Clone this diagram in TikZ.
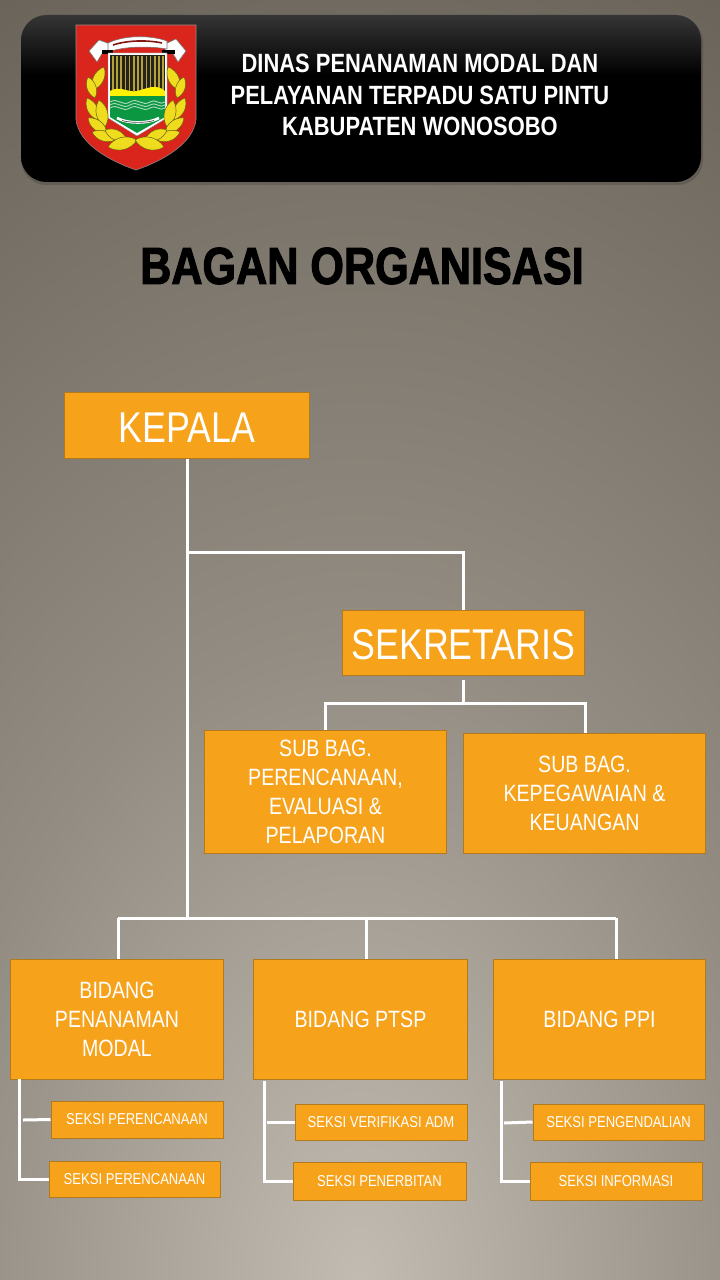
\documentclass[tikz,border=0pt]{standalone}
\usepackage{fontspec}
\setmainfont[FakeStretch=0.83]{Liberation Sans}
\newfontfamily\judulfont[FakeStretch=0.83,FakeBold=2]{Liberation Sans Bold}
\definecolor{boxfill}{HTML}{F7A21B}
\definecolor{boxline}{HTML}{B27A1A}
\definecolor{shieldred}{HTML}{DA251C}
\definecolor{leafyellow}{HTML}{F0DC1E}
\definecolor{leafline}{HTML}{6B6410}
\definecolor{fieldgreen}{HTML}{0B9642}
\definecolor{stripedark}{HTML}{26241A}
\definecolor{stripegold}{HTML}{B5A23C}
\pgfdeclarefunctionalshading{backdrop}{\pgfpointorigin}{\pgfpoint{100bp}{100bp}}{}{
  exch 50 sub 0.85 mul dup mul exch 25 sub dup mul add sqrt 50 div
  dup 0.5 lt {0.37 mul 0.76 exch sub}{0.5 sub 0.27 mul 0.575 exch sub} ifelse
  dup dup 0.025 sub exch 0.065 sub}
\pgfdeclareverticalshading{headerbar}{100bp}{
  rgb(0bp)=(0,0,0); rgb(57bp)=(0,0,0); rgb(75bp)=(0.21,0.21,0.21); rgb(100bp)=(0.21,0.21,0.21)}
\tikzset{
  orgbox/.style 2 args={draw=boxline,fill=boxfill,text=white,inner sep=0pt,align=center,
    line width=0.75pt,minimum width=#1*0.75pt,minimum height=#2*0.75pt},
  big/.style={font=\fontsize{32.3}{36}\selectfont,text height=26pt},
  mid/.style={font=\fontsize{17.7}{21.75}\selectfont},
  small/.style={font=\fontsize{11.8}{13}\selectfont},
  wire/.style={draw=white,line width=2.25pt},
  ribbon/.style={fill=white,draw=black!55,line width=0.4pt},
  leaf/.style={fill=leafyellow,draw=leafline,line width=0.4pt}
}
\begin{document}
\begin{tikzpicture}[x=0.75pt,y=-0.75pt]
  \useasboundingbox (0,0) rectangle (720,1280);
  \shade[shading=backdrop] (0,0) rectangle (720,1280);
  % header
  \fill[black,opacity=0.15,rounded corners=19pt] (21,17) rectangle (703,185);
  \shade[shading=headerbar,rounded corners=19pt] (21,15) rectangle (701,182);
  % emblem
  \fill[shieldred,draw=black!45,line width=0.4pt] (76,25) -- (196,25) -- (196,120)
    .. controls (193,143) and (165,160) .. (136,170)
    .. controls (107,160) and (79,143) .. (76,120) -- cycle;
  \fill[ribbon] (89,51) -- (99,40) -- (110,44) -- (110,50) -- (103,52) -- (97,62) -- cycle;
  \fill[ribbon] (186,51) -- (176,39) -- (165,44) -- (165,50) -- (172,52) -- (178,62) -- cycle;
  \fill[ribbon] (108,43) .. controls (125,35) and (150,35) .. (167,41)
    -- (167,49) .. controls (150,46) and (125,46) .. (108,52) -- cycle;
  \draw[shieldred!60!black,line width=1.2pt] (113,45) .. controls (128,40) and (148,40) .. (162,43);
  \fill[black] (102,50) rectangle (113,54);
  \fill[black] (162,50) rectangle (175,54);
  \fill[white,draw=black!50,line width=0.3pt] (108,53) -- (167,53) -- (167,118) -- (137,136) -- (108,118) -- cycle;
  \fill[stripedark] (110,55) rectangle (165,92);
  \foreach \i in {0,...,12}
    \fill[stripegold] (112+\i*4.2,56) rectangle (113.5+\i*4.2,91);
  \fill[fieldgreen] (110,95) -- (165,95) -- (165,117) -- (137,133) -- (110,117) -- cycle;
  \fill[yellow] (110,96) -- (110,91) .. controls (120,85) and (128,93) .. (137,91)
    .. controls (146,89) and (156,83) .. (165,91) -- (165,96) -- cycle;
  \foreach \w in {102,105,108}
    \draw[white!65!fieldgreen,line width=0.7pt] (110,\w) .. controls (118,\w-5) and (122,\w+5) .. (130,\w)
      .. controls (138,\w-5) and (142,\w+5) .. (150,\w) .. controls (155,\w-4) and (160,\w+4) .. (165,\w);
  \draw[white,line width=2pt] (117,118) .. controls (128,124) and (148,124) .. (159,118);
  \draw[black!70,line width=0.5pt] (122,120.5) .. controls (130,123) and (146,123) .. (154,120.5);
  % daun
  \foreach \xa/\ya/\xb/\yb in {104/67/93/90,88/77/95/98,87/98/98/120,99/100/105/127,
    88/118/107/133,92/132/115/140,105/130/127/140,108/147/137/140}{
    \fill[leaf] (\xa,\ya) to[bend left=45] (\xb,\yb) to[bend left=45] (\xa,\ya);
    \fill[leaf] (272-\xa,\ya) to[bend left=45] (272-\xb,\yb) to[bend left=45] (272-\xa,\ya);
  }
  % judul
  \node (dinas) at (420,95) [text=white,align=center,font=\fontsize{19.8}{23.6}\selectfont\bfseries]
    {DINAS PENANAMAN MODAL DAN\\PELAYANAN TERPADU SATU PINTU\\KABUPATEN WONOSOBO};
  \node (bagan) at (362,266) [text=black,font=\fontsize{39}{42}\judulfont] {BAGAN ORGANISASI};
  % kotak
  \node (kepala) at (187,425) [orgbox={245}{66},big] {KEPALA};
  \node (sekretaris) at (463.5,642.5) [orgbox={242}{65},big] {SEKRETARIS};
  \node (subrencana) at (325.5,791.5) [orgbox={242}{123},mid] {SUB BAG.\\PERENCANAAN,\\EVALUASI \&\\PELAPORAN};
  \node (subpegawai) at (584.5,793) [orgbox={242}{120},mid] {SUB BAG.\\KEPEGAWAIAN \&\\KEUANGAN};
  \node (modal) at (117,1019) [orgbox={213}{120},mid] {BIDANG\\PENANAMAN\\MODAL};
  \node (ptsp) at (360.5,1019) [orgbox={214}{120},mid] {BIDANG PTSP};
  \node (ppi) at (599.5,1019) [orgbox={212}{120},mid] {BIDANG PPI};
  \node (seksia) at (137,1119.5) [orgbox={172}{37},small] {SEKSI PERENCANAAN};
  \node (seksib) at (134.5,1179) [orgbox={171}{36},small] {SEKSI PERENCANAAN};
  \node (seksic) at (381,1122) [orgbox={172}{36},small] {SEKSI VERIFIKASI ADM};
  \node (seksid) at (379.5,1181) [orgbox={173}{38},small] {SEKSI PENERBITAN};
  \node (seksie) at (618.5,1122) [orgbox={171}{36},small] {SEKSI PENGENDALIAN};
  \node (seksif) at (616,1181) [orgbox={172}{38},small] {SEKSI INFORMASI};
  % garis
  \coordinate (trunk) at (187,918);
  \coordinate (leftend) at (118,918);
  \coordinate (rightend) at (616,918);
  \draw[wire] (kepala.south) -- (trunk);
  \draw[wire] (187,552) -| (sekretaris.north);
  \draw[wire] (463.5,680) -- (463.5,703);
  \draw[wire] (325,730) |- (585,703) -- (585,733);
  \draw[wire] (leftend) -- (rightend);
  \draw[wire] (leftend) -- (118,959);
  \draw[wire] (366,918) -- (366,959);
  \draw[wire] (rightend) -- (616,959);
  \draw[wire] (19,1079) |- (seksib.west);
  \draw[wire] (23,1120) -- (seksia.west);
  \draw[wire] (264,1081) |- (seksid.west);
  \draw[wire] (267,1122) -- (seksic.west);
  \draw[wire] (501,1081) |- (seksif.west);
  \draw[wire] (504,1123) -- (seksie.west);
\end{tikzpicture}
\end{document}
